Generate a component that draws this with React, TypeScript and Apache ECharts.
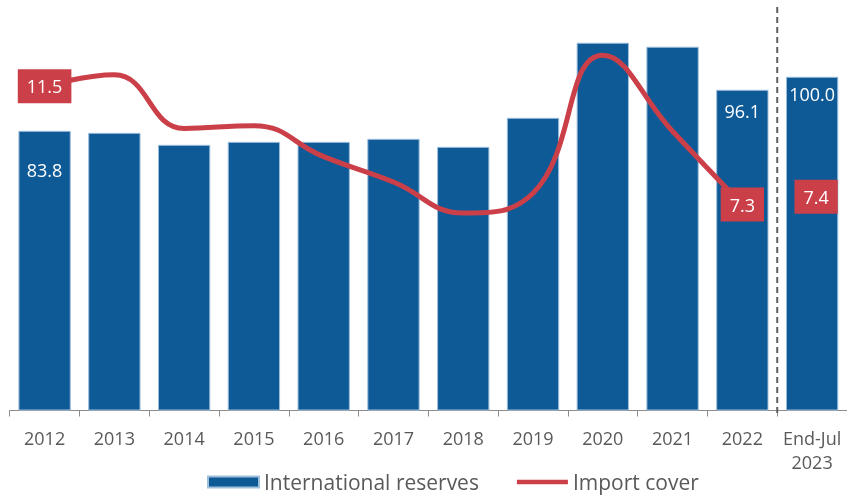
import React, { useEffect, useRef } from "react";
import * as echarts from "echarts";

const categories = ["2012", "2013", "2014", "2015", "2016", "2017", "2018", "2019", "2020", "2021", "2022", "End-Jul\n2023"];
const reserves = [83.8, 83.2, 79.6, 80.5, 80.5, 81.4, 79.0, 87.7, 110.2, 109.0, 96.1, 100.0];
const importCover = [11.5, 11.9, 10.0, 10.1, 9.0, 8.1, 7.0, 7.7, 12.6, 9.9, 7.3];
const importCoverLatest = 7.4;
const reserveLabelIdx = [0, 10, 11];
const coverLabelIdx = [0, 10];

const BLUE = "#0E5A97";
const RED = "#CB3F49";
const FONT = "'Open Sans', sans-serif";

export default function App() {
  const ref = useRef<HTMLDivElement>(null);
  useEffect(() => {
    if (!ref.current) return;
    const chart = echarts.init(ref.current, null, { renderer: "svg" });
    const barLabelDist = [30, 12, 8];
    const barData = reserves.map((v, i) => {
      const k = reserveLabelIdx.indexOf(i);
      return k >= 0
        ? {
            value: v,
            label: {
              show: true,
              position: "insideTop",
              distance: barLabelDist[k],
              color: "#fff",
              fontSize: 18,
              fontFamily: FONT,
              formatter: (p: any) => Number(p.value).toFixed(1),
            },
          }
        : { value: v };
    });
    const redLabel = {
      show: true,
      position: "inside",
      color: "#fff",
      fontSize: 18,
      lineHeight: 22,
      fontFamily: FONT,
      backgroundColor: RED,
      padding: [7, 9, 5, 9],
      formatter: (p: any) => Number(p.value).toFixed(1),
    };
    const lineData = importCover.map((v, i) =>
      coverLabelIdx.includes(i) ? { value: v, label: redLabel } : { value: v }
    );
    const latestData = categories.map((_, i) =>
      i === categories.length - 1 ? { value: importCoverLatest, label: { ...redLabel, offset: [4, -5] } } : null
    );
    chart.setOption({
      animation: false,
      textStyle: { fontFamily: FONT },
      grid: { left: 9.7, right: 0, top: 10, bottom: 85.5, containLabel: false },
      legend: {
        left: 207,
        top: 471,
        padding: 0,
        itemWidth: 51,
        itemHeight: 11,
        itemGap: 38,
        textStyle: { color: "#595959", fontSize: 21, lineHeight: 22, fontFamily: FONT },
        data: [
          { name: "International reserves", icon: "rect" },
          { name: "Import cover", icon: "path://M0,0H54V5H0Z" },
        ],
      },
      xAxis: {
        type: "category",
        data: categories,
        axisLine: { lineStyle: { color: "#8c8c8c", width: 1 } },
        axisTick: { show: true, length: 6, lineStyle: { color: "#8c8c8c" } },
        axisLabel: { interval: 0, color: "#595959", fontSize: 18, fontFamily: FONT, lineHeight: 24, margin: 15 },
      },
      yAxis: [
        { type: "value", min: 0, max: 120, show: false, splitLine: { show: false } },
        { type: "value", min: 0, max: 14.2, show: false, splitLine: { show: false } },
      ],
      series: [
        {
          name: "International reserves",
          type: "bar",
          data: barData,
          barCategoryGap: "25%",
          itemStyle: { color: BLUE, borderColor: "#9fbfdc", borderWidth: 1 },
          z: 2,
        },
        {
          name: "Import cover",
          type: "line",
          yAxisIndex: 1,
          data: lineData,
          smooth: 0.45,
          symbol: "circle",
          symbolSize: 2,
          itemStyle: { color: RED },
          lineStyle: { color: RED, width: 5 },
          z: 3,
        },
        {
          name: "Import cover latest",
          type: "line",
          yAxisIndex: 1,
          data: latestData,
          symbol: "circle",
          symbolSize: 2,
          itemStyle: { color: RED },
          lineStyle: { width: 0 },
          z: 3,
        },
      ],
    });
    const a = chart.convertToPixel({ xAxisIndex: 0 }, categories[categories.length - 2]) as number;
    const b = chart.convertToPixel({ xAxisIndex: 0 }, categories[categories.length - 1]) as number;
    const sepX = (a + b) / 2;
    chart.setOption({
      graphic: [
        {
          type: "line",
          shape: { x1: sepX, y1: 7, x2: sepX, y2: 413 },
          style: { stroke: "#5f5f5f", lineWidth: 2, lineDash: [6, 4] },
          z: 10,
        },
      ],
    });
    return () => chart.dispose();
  }, []);
  return <div ref={ref} style={{ position: "fixed", left: 0, top: 0, width: 847, height: 496 }} />;
}
